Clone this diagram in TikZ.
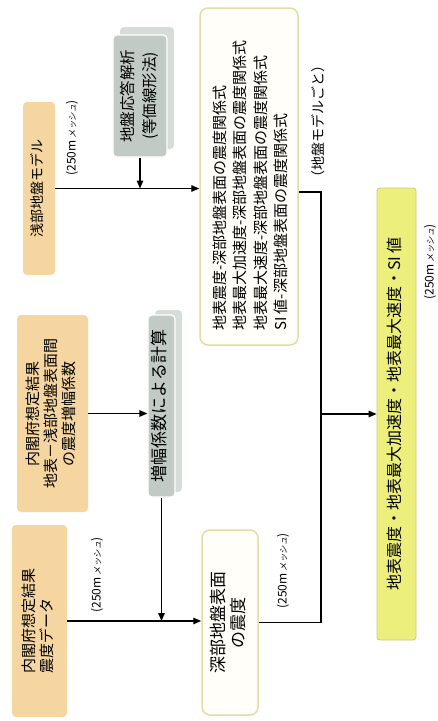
\documentclass[tikz,border=0pt]{standalone}
\usepackage{fontspec}
\setmainfont{Noto Sans CJK JP}
\newfontfamily\slantjp[FakeSlant=0.2]{Noto Sans CJK JP}
\usetikzlibrary{arrows.meta}
\definecolor{orangefill}{RGB}{245,213,160}
\definecolor{grayfill}{RGB}{193,202,196}
\definecolor{grayshadow}{RGB}{214,220,215}
\definecolor{beigeline}{RGB}{228,220,165}
\definecolor{cream}{RGB}{255,254,248}
\definecolor{yellowfill}{RGB}{236,239,124}
\definecolor{yellowline}{RGB}{200,202,120}
\newcommand{\vtext}[4]{\rotatebox{90}{\fontsize{#1}{#2}\selectfont\begin{tabular}{@{}#3@{}}#4\end{tabular}}}
\newcommand{\meshlabel}{\rotatebox{90}{\fontsize{12}{12}\selectfont (250m\,{\slantjp\fontsize{8.5}{8.5}\selectfont メッシュ})}}
\begin{document}
\begin{tikzpicture}[x=1pt,y=-1pt,
  box/.style={inner sep=0pt, rounded corners=4pt},
  obox/.style={box, fill=orangefill},
  gbox/.style={box, fill=grayfill, draw=white, line width=1.2pt},
  gshadow/.style={fill=grayshadow, rounded corners=4pt},
  wbox/.style={box, rounded corners=8pt, fill=cream, draw=beigeline, line width=1.5pt},
  ybox/.style={box, rounded corners=3pt, fill=yellowfill, draw=yellowline, line width=0.8pt},
  lbl/.style={inner sep=0pt},
  conn/.style={line width=1.3pt, black},
  arr/.style={conn, -{Triangle[length=8pt,width=6.5pt]}},
]
\useasboundingbox (0,0) rectangle (438,721);

% shallow ground model
\node[obox, minimum width=32pt, minimum height=173pt] (A) at (39,188.5) {\vtext{14}{17}{c}{浅部地盤モデル}};
\node[lbl] (Alab) at (72,138) {\meshlabel};

% ground response analysis
\fill[gshadow] (120,27) rectangle (174,149);
\node[gbox, minimum width=54pt, minimum height=122pt] (B) at (140,96) {\vtext{15.5}{22}{c}{地盤応答解析\\(等価線形法)}};

% relation box
\node[wbox, minimum width=98pt, minimum height=337pt] (C) at (249,176.5) {};
\node[lbl, anchor=south] (Ctext) at (252,331) {\vtext{15}{20.5}{l}{地表震度-深部地盤表面の震度関係式\\地表最大加速度-深部地盤表面の震度関係式\\地表最大速度-深部地盤表面の震度関係式\\SI 値-深部地盤表面の震度関係式}};
\node[lbl] (Clab) at (318,121) {\rotatebox{90}{\fontsize{14}{15}\selectfont （地盤モデルごと）}};

% amplification factor data
\node[obox, minimum width=71pt, minimum height=197pt] (M) at (52.5,413.5) {\vtext{15}{17.5}{c}{内閣府想定結果\\地表－浅部地盤表面間\\の震度増幅係数}};

% amplification calculation
\fill[gshadow] (155,310) rectangle (182,492);
\node[gbox, minimum width=27pt, minimum height=182pt] (G) at (161.5,406) {\vtext{17}{18}{c}{増幅係数による計算}};

% seismic intensity data
\node[obox, minimum width=55pt, minimum height=192pt] (D) at (39.5,621) {\vtext{15}{18}{l}{内閣府想定結果\\震度データ}};
\node[lbl] (Dlab) at (97,575) {\meshlabel};

% deep ground surface intensity
\node[wbox, minimum width=56pt, minimum height=185pt] (E) at (230,622.5) {\vtext{17}{17.5}{c}{深部地盤表面\\の震度}};
\node[lbl] (Elab) at (283,571) {\meshlabel};

% result
\node[ybox, minimum width=39pt, minimum height=452pt] (F) at (396.5,414) {\vtext{16}{18}{c}{地表震度・地表最大加速度・地表最大速度・SI 値}};
\node[lbl] (Flab) at (430,262) {\meshlabel};

% connectors
\coordinate (J1) at (321,192);
\draw[arr] (A.east) -- (A.east -| C.west);
\draw[arr] (B.south) -- (B.south |- A.east);
\draw[conn] (C.east |- J1) -- (J1) -- (J1 |- E.east) -- (E.east);
\draw[arr] (J1 |- F.west) -- (F.west);
\draw[arr] (M.east) -- (M.east -| G.west);
\draw[arr] (G.south) -- (G.south |- D.east);
\draw[arr] (D.east) -- (D.east -| E.west);
\end{tikzpicture}
\end{document}
